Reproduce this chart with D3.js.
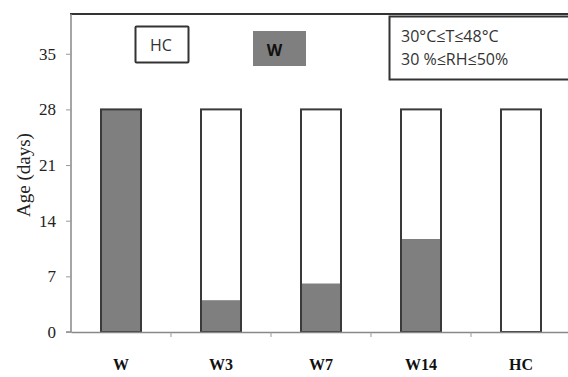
<!DOCTYPE html>
<html>
<head>
<meta charset="utf-8">
<script src="https://cdn.jsdelivr.net/npm/d3@7"></script>
<style>
  body { margin: 0; background: #fff; }
  svg { display: block; }
</style>
</head>
<body>
<div id="chart"></div>
<script>
const categories = ['W', 'W3', 'W7', 'W14', 'HC'];
const totalAge = [28, 28, 28, 28, 28];
const wAge = [28, 4, 6.1, 11.7, 0];
const yTicks = [0, 7, 14, 21, 28, 35];
const legendItems = ['HC', 'W'];
const conditionLines = ['30°C≤T≤48°C', '30 %≤RH≤50%'];

const W = 568, H = 377;
const margin = { top: 14, right: -3, bottom: 45, left: 71 };
const width = W - margin.left - margin.right;
const height = H - margin.top - margin.bottom;

const svg = d3.select('#chart').append('svg')
  .attr('width', W).attr('height', H);
const g = svg.append('g').attr('transform', `translate(${margin.left},${margin.top})`);

const x = d3.scaleBand().domain(categories).range([0, width]);
const y = d3.scaleLinear().domain([0, 40]).range([height, 0]);
const barW = 40;
const gray = '#7f7f7f';
const stroke = '#3a3a3a';
const serif = 'Liberation Serif, Times New Roman, serif';
const sans = 'Open Sans, Liberation Sans, sans-serif';

// Frame top line
g.append('line').attr('x1', -1).attr('x2', width).attr('y1', 0).attr('y2', 0)
  .attr('stroke', '#333').attr('stroke-width', 2);

// Y axis
g.append('g')
  .call(d3.axisLeft(y).tickValues(yTicks).tickSize(5).tickPadding(10).tickFormat(d => d))
  .call(a => a.select('.domain').attr('stroke', '#888').attr('stroke-width', 1.5).attr('d', `M-5,${height}H0V0`))
  .call(a => a.selectAll('.tick line').attr('stroke', '#999'))
  .call(a => a.selectAll('.tick text').attr('fill', '#222').attr('font-family', serif).attr('font-size', '17px'));

// Bars: outline of total age, gray fill for W exposure
const bx = d => x(d) + x.bandwidth() / 2 - barW / 2;
const bars = g.selectAll('.bar').data(categories).join('g').attr('class', 'bar');
bars.append('rect')
  .attr('x', bx)
  .attr('y', (d, i) => y(totalAge[i]))
  .attr('width', barW)
  .attr('height', (d, i) => y(0) - y(totalAge[i]))
  .attr('fill', '#fff');
bars.filter((d, i) => wAge[i] > 0).append('rect')
  .attr('x', bx)
  .attr('y', d => y(wAge[categories.indexOf(d)]))
  .attr('width', barW)
  .attr('height', d => y(0) - y(wAge[categories.indexOf(d)]))
  .attr('fill', gray);
bars.append('rect')
  .attr('x', bx)
  .attr('y', (d, i) => y(totalAge[i]))
  .attr('width', barW)
  .attr('height', (d, i) => y(0) - y(totalAge[i]))
  .attr('fill', 'none').attr('stroke', stroke).attr('stroke-width', 2);

// X axis
g.append('g').attr('transform', `translate(0,${height})`)
  .call(d3.axisBottom(x).tickSize(0).tickPadding(27))
  .call(a => a.select('.domain').attr('stroke', '#888').attr('stroke-width', 1.5))
  .call(a => a.selectAll('.tick text').attr('fill', '#111').attr('font-weight', 'bold')
    .attr('font-family', serif).attr('font-size', '16px'));

// Category boundary ticks
g.append('g').selectAll('line').data(categories.slice(1)).join('line')
  .attr('x1', d => x(d)).attr('x2', d => x(d))
  .attr('y1', height).attr('y2', height + 5)
  .attr('stroke', '#999');

// Y label
svg.append('text')
  .attr('transform', 'translate(30,175) rotate(-90)')
  .attr('text-anchor', 'middle').attr('fill', '#222')
  .attr('font-family', serif).attr('font-size', '19px')
  .text('Age (days)');

// Legend
svg.append('rect').attr('x', 135.5).attr('y', 26.5).attr('width', 53).attr('height', 36)
  .attr('fill', '#fff').attr('stroke', '#333').attr('stroke-width', 2).attr('rx', 1);
svg.append('text').attr('x', 161).attr('y', 51).attr('text-anchor', 'middle')
  .attr('font-family', sans).attr('font-size', '16px').attr('fill', '#333').text(legendItems[0]);
svg.append('rect').attr('x', 253).attr('y', 31).attr('width', 53).attr('height', 35)
  .attr('fill', gray);
svg.append('text').attr('x', 274.5).attr('y', 56).attr('text-anchor', 'middle')
  .attr('font-family', sans).attr('font-weight', 'bold').attr('font-size', '16px').attr('fill', '#111').text(legendItems[1]);

// Conditions box
svg.append('rect').attr('x', 389.5).attr('y', 16.5).attr('width', 190).attr('height', 63)
  .attr('fill', '#fff').attr('stroke', '#333').attr('stroke-width', 2);
svg.append('g').selectAll('text').data(conditionLines).join('text')
  .attr('x', 401).attr('y', (d, i) => 42 + i * 23)
  .attr('font-family', sans).attr('font-size', '16px').attr('fill', '#333')
  .text(d => d);
</script>
</body>
</html>
